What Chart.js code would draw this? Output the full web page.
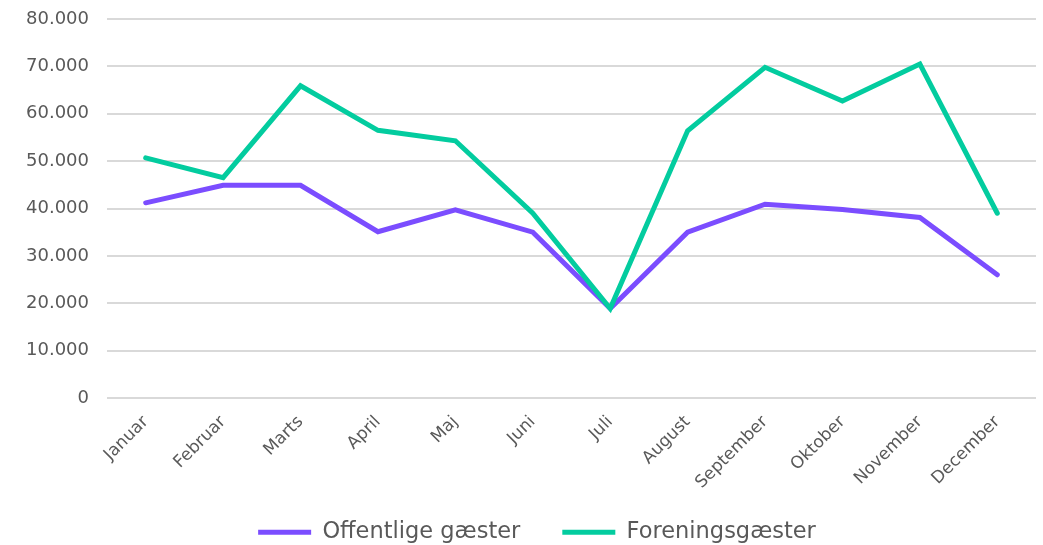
<!DOCTYPE html>
<html>
<head>
<meta charset="utf-8">
<script src="https://cdn.jsdelivr.net/npm/chart.js@4/dist/chart.umd.min.js"></script>
<style>
  html, body { margin: 0; padding: 0; background: #ffffff; }
  #wrap { width: 1043px; height: 545px; position: relative; }
</style>
</head>
<body>
<div id="wrap"><canvas id="c"></canvas></div>
<script>
const categories = ["Januar", "Februar", "Marts", "April", "Maj", "Juni", "Juli", "August", "September", "Oktober", "November", "December"];
const offentlige = [41200, 44900, 44900, 35100, 39700, 35000, 18900, 35000, 40900, 39800, 38100, 26000];
const forening = [50700, 46500, 65900, 56500, 54300, 39000, 18900, 56400, 69800, 62700, 70500, 39000];
const seriesNames = ["Offentlige gæster", "Foreningsgæster"];
const yTicks = [0, 10000, 20000, 30000, 40000, 50000, 60000, 70000, 80000];

const FONT = "'DejaVu Sans', 'Noto Sans', sans-serif";
const fmt = v => String(v).replace(/\B(?=(\d{3})+(?!\d))/g, ".");

const legendTweak = {
  id: 'legendTweak',
  beforeLayout(chart) {
    const lg = chart.legend;
    if (lg && !lg._patched) {
      lg._patched = true;
      const origFit = lg.fit;
      lg.fit = function () { origFit.call(this); this.height = 66; };
      const origDraw = lg.draw;
      lg.draw = function () {
        const ctx = this.ctx;
        ctx.save();
        ctx.translate(15, 0);
        origDraw.apply(this, arguments);
        ctx.restore();
      };
    }
  }
};

new Chart(document.getElementById('c'), {
  type: 'line',
  data: {
    labels: categories,
    datasets: [
      { label: seriesNames[0], data: offentlige, order: 1, borderColor: '#7B4DFF', backgroundColor: '#7B4DFF', borderWidth: 5, pointRadius: 0, tension: 0, borderCapStyle: 'round', borderJoinStyle: 'miter' },
      { label: seriesNames[1], data: forening, order: 0, borderColor: '#03CC9F', backgroundColor: '#03CC9F', borderWidth: 5, pointRadius: 0, tension: 0, borderCapStyle: 'round', borderJoinStyle: 'miter' }
    ]
  },
  plugins: [legendTweak],
  options: {
    responsive: true,
    maintainAspectRatio: false,
    animation: false,
    layout: { padding: { left: 8, right: 7, top: 0, bottom: 0 } },
    plugins: {
      tooltip: { enabled: false },
      legend: {
        position: 'bottom',
        labels: {
          usePointStyle: true,
          pointStyle: 'line',
          pointStyleWidth: 53,
          boxHeight: 5,
          color: '#595959',
          font: { family: FONT, size: 22.5 },
          padding: 42,
          sort: (a, b) => a.datasetIndex - b.datasetIndex
        }
      }
    },
    scales: {
      x: {
        offset: true,
        grid: { display: false, drawTicks: false },
        border: { display: false },
        afterFit: s => {
          s.paddingLeft = 0; s.paddingRight = 0; s.height = 81;
          s._computeLabelArea = () => undefined;
        },
        ticks: {
          color: '#595959',
          font: { family: FONT, size: 17 },
          minRotation: 45,
          maxRotation: 45,
          padding: 14,
          autoSkip: false
        }
      },
      y: {
        min: 0,
        max: 80000,
        afterBuildTicks: axis => { axis.ticks = yTicks.map(v => ({ value: v })); },
        afterFit: s => { s.paddingTop = 19; s.paddingBottom = 0; },
        grid: { color: '#d9d9d9', lineWidth: 2, drawTicks: false },
        border: { display: false },
        ticks: {
          color: '#595959',
          font: { family: FONT, size: 18 },
          padding: 18,
          callback: v => fmt(v)
        }
      }
    }
  }
});
</script>
</body>
</html>
